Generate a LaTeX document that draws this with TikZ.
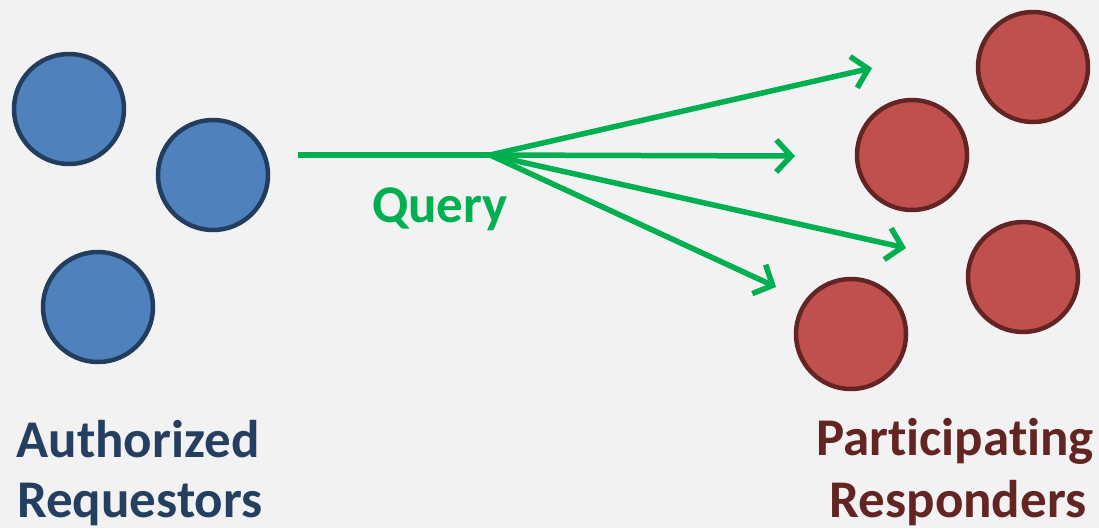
\documentclass[tikz,border=0pt]{standalone}
\usepackage{fontspec}
\setmainfont[Ligatures={NoCommon,NoRare,NoContextual},Contextuals=NoAlternate]{Carlito}
\usetikzlibrary{arrows.meta}
\definecolor{bg}{HTML}{F2F2F2}
\definecolor{reqfill}{HTML}{4F81BD}
\definecolor{reqline}{HTML}{233D5E}
\definecolor{resfill}{HTML}{C0504D}
\definecolor{resline}{HTML}{632523}
\definecolor{qgreen}{HTML}{00B050}
\definecolor{reqtext}{HTML}{243F60}
\definecolor{restext}{HTML}{632523}
\begin{document}
\begin{tikzpicture}[x=1pt,y=-1pt,
  requestor/.style={circle,inner sep=0pt,minimum size=110pt,line width=4.5pt,draw=reqline,fill=reqfill},
  responder/.style={circle,inner sep=0pt,minimum size=110pt,line width=4.5pt,draw=resline,fill=resfill},
  query/.style={draw=qgreen,line width=5.5pt},
  qarrow/.style={query,-{Straight Barb[length=15pt,width=32pt,line width=5.5pt]}},
  label/.style={font=\bfseries\fontsize{53}{60}\selectfont,anchor=base,inner sep=0pt}]
  \fill[bg] (0,0) rectangle (1099,528);
  \useasboundingbox (0,0) rectangle (1099,528);
  % authorized requestors
  \node[requestor] (a1) at (69,109) {};
  \node[requestor] (a2) at (213,175) {};
  \node[requestor] (a3) at (98,307) {};
  % participating responders
  \node[responder] (r1) at (1033,67) {};
  \node[responder] (r2) at (912,155) {};
  \node[responder] (r3) at (1023,277) {};
  \node[responder] (r4) at (851,334) {};
  % query fan-out
  \coordinate (qstart) at (298,155);
  \coordinate (hub) at (490,155);
  \coordinate (t1) at (872,68);
  \coordinate (t2) at (795,156);
  \coordinate (t3) at (906,248);
  \coordinate (t4) at (776,287);
  \draw[query] (qstart) -- (hub);
  \draw[qarrow] (hub) -- (t1);
  \draw[qarrow] (hub) -- (t2);
  \draw[qarrow] (hub) -- (t3);
  \draw[qarrow] (hub) -- (t4);
  \node[label,text=qgreen] (q) at (440,222) {Query};
  % captions
  \node[label,text=reqtext] (l1) at (138,457) {Authorized};
  \node[label,text=reqtext] (l2) at (140,517) {Requestors};
  \node[label,text=restext] (l3) at (955,455) {Participating};
  \node[label,text=restext] (l4) at (958,517) {Responders};
\end{tikzpicture}
\end{document}
